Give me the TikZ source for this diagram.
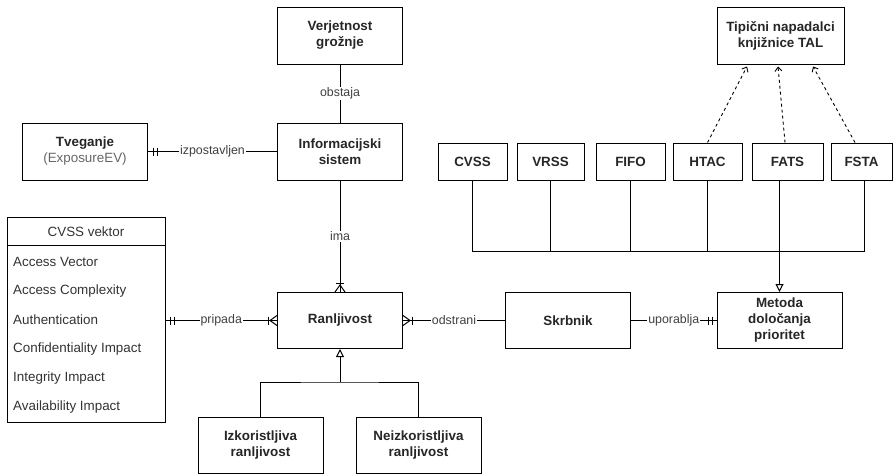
\documentclass[tikz,border=0pt]{standalone}
\usepackage{fontspec}
\setmainfont{Liberation Sans}
\usetikzlibrary{arrows.meta}
\begin{document}
\begin{tikzpicture}[x=1pt,y=-1pt,
  ent/.style={draw, line width=1pt, fill=white, inner sep=0pt, align=center,
    minimum width=125pt, minimum height=57pt,
    font=\fontsize{13.4}{16}\selectfont\bfseries, text=black!85},
  small/.style={ent, minimum width=69pt, minimum height=37pt},
  lbl/.style={fill=white, inner sep=1pt, font=\fontsize{12.4}{14}\selectfont, text=black!75},
  rowtxt/.style={inner sep=0pt, font=\fontsize{13.4}{15}\selectfont, text=black!80},
  conn/.style={line width=1pt},
  tri/.style={line width=1pt, -{Triangle[open,length=8pt,width=8pt]}},
  dep/.style={line width=0.9pt, dash pattern=on 3pt off 3pt, -{Straight Barb[length=4pt,width=7pt]}}
]
\useasboundingbox (0,0) rectangle (893,474);

% entities
\node[ent] (verj) at (340,35.5) {Verjetnost\\grožnje};
\node[ent] (info) at (340,151.5) {Informacijski\\sistem};
\node[ent] (tveg) at (85,151.5) {Tveganje\\{\mdseries\color{black!60}(ExposureEV)}};
\node[ent, minimum height=56pt] (ranl) at (340,320.5) {Ranljivost};
\node[ent, minimum height=56pt] (skrb) at (568,320.5) {Skrbnik};
\node[ent, minimum height=56pt] (meto) at (779.5,320.5) {Metoda\\določanja\\prioritet};
\node[ent, minimum width=127pt] (tip) at (780.5,35.5) {Tipični napadalci\\knjižnice TAL};
\node[ent, minimum height=56pt] (izk) at (260.5,445) {Izkoristljiva\\ranljivost};
\node[ent, minimum height=56pt] (neiz) at (418.5,445) {Neizkoristljiva\\ranljivost};

% method boxes
\node[small] (cvss) at (472.5,161.5) {CVSS};
\node[small, minimum width=67pt] (vrss) at (550.5,161.5) {VRSS};
\node[small] (fifo) at (630.5,161.5) {FIFO};
\node[small] (htac) at (707.5,161.5) {HTAC};
\node[small, minimum width=71pt] (fats) at (787.5,161.5) {FATS};
\node[small, minimum width=61pt] (fsta) at (861.5,161.5) {FSTA};

% CVSS vektor table
\node[draw, line width=1pt, inner sep=0pt, minimum width=158pt, minimum height=205pt] (cvssv) at (86,319.5) {};
\draw[conn] ([yshift=-29pt]cvssv.north west) -- ([yshift=-29pt]cvssv.north east);
\node[rowtxt] (cvh) at (86,231.5) {CVSS vektor};
\node[rowtxt, anchor=west] (r1) at (13,262) {Access Vector};
\node[rowtxt, anchor=west] (r2) at (13,291) {Access Complexity};
\node[rowtxt, anchor=west] (r3) at (13,320) {Authentication};
\node[rowtxt, anchor=west] (r4) at (13,349) {Confidentiality Impact};
\node[rowtxt, anchor=west] (r5) at (13,378) {Integrity Impact};
\node[rowtxt, anchor=west] (r6) at (13,407) {Availability Impact};

% relationships
\draw[conn] (verj) -- node[lbl] {obstaja} (info);
\draw[conn] (tveg) -- node[lbl] {izpostavljen} (info);
\draw[conn] (info) -- node[lbl] {ima} (ranl);
\coordinate (pe) at (ranl.west -| cvssv.east);
\draw[conn] (pe) -- node[lbl] {pripada} (ranl.west);
\draw[conn] (ranl) -- node[lbl] {odstrani} (skrb);
\draw[conn] (skrb) -- node[lbl] {uporablja} (meto);

% ER markers
\draw[conn] ([xshift=5pt]tveg.east) ++(0,-4) -- ++(0,8);
\draw[conn] ([xshift=9pt]tveg.east) ++(0,-4) -- ++(0,8);
\draw[conn] ([xshift=5pt]pe) ++(0,-4) -- ++(0,8);
\draw[conn] ([xshift=9pt]pe) ++(0,-4) -- ++(0,8);
\draw[conn] ([yshift=5pt]ranl.west) -- ([xshift=-7pt]ranl.west) -- ([yshift=-5pt]ranl.west);
\draw[conn] ([xshift=-9pt]ranl.west) ++(0,-4) -- ++(0,8);
\draw[conn] ([yshift=5pt]ranl.east) -- ([xshift=7pt]ranl.east) -- ([yshift=-5pt]ranl.east);
\draw[conn] ([xshift=9pt]ranl.east) ++(0,-4) -- ++(0,8);
\draw[conn] ([xshift=-5pt]ranl.north) -- ([yshift=7pt]ranl.north) -- ([xshift=5pt]ranl.north);
\draw[conn] ([yshift=9pt]ranl.north) ++(-4,0) -- ++(8,0);
\draw[conn] ([xshift=-4pt]meto.west) ++(0,-4) -- ++(0,8);
\draw[conn] ([xshift=-8pt]meto.west) ++(0,-4) -- ++(0,8);

% generalisation
\coordinate (genc) at (340,382);
\draw[tri] (genc) -- (ranl.south);
\draw[conn] (izk.north) |- (genc) -| (neiz.north);

% bus of methods
\coordinate (bus) at (780,251);
\draw[conn] (cvss.south) |- ([xshift=2.5pt]fsta.south |- bus) -- ([xshift=2.5pt]fsta.south);
\draw[conn] (vrss.south) -- (vrss.south |- bus);
\draw[conn] (fifo.south) -- (fifo.south |- bus);
\draw[conn] (htac.south) -- (htac.south |- bus);
\draw[tri] (fats.south -| meto.north) -- (meto.north);

% dependencies to typical attackers
\draw[dep] (htac.north) -- ([xshift=-33.5pt,yshift=-2pt]tip.south);
\draw[dep] ([xshift=-2.5pt]fats.north) -- ([xshift=-2.5pt,yshift=-2pt]tip.south);
\draw[dep] ([xshift=-6.5pt]fsta.north) -- ([xshift=32.5pt,yshift=-2pt]tip.south);
\end{tikzpicture}
\end{document}
